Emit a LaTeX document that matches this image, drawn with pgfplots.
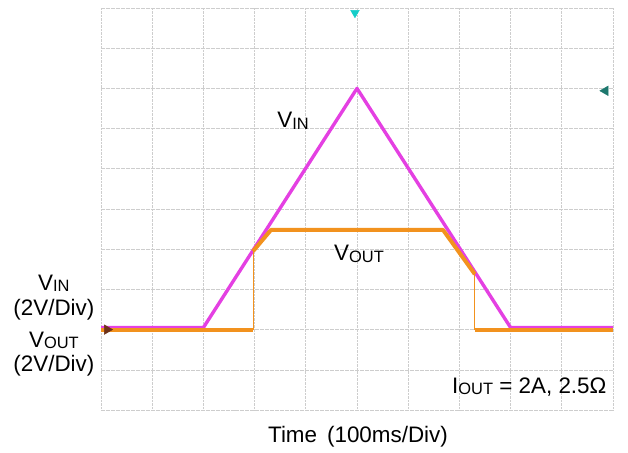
\documentclass[border=0pt]{standalone}
\usepackage{pgfplots}
\pgfplotsset{compat=1.18}
\usepackage{fontspec}
\setmainfont{Liberation Sans}
\definecolor{vin}{RGB}{228,64,226}
\definecolor{vout}{RGB}{242,146,30}
\definecolor{gridc}{RGB}{205,205,205}
\definecolor{trig}{RGB}{20,205,200}
\definecolor{lvl}{RGB}{30,120,110}
\definecolor{chmark}{RGB}{110,50,25}
\newcommand{\sbs}[1]{\raisebox{-1.2pt}{\fontsize{16.5}{18}\selectfont #1}}
\begin{document}
\begin{tikzpicture}
\path[use as bounding box] (0,0) rectangle (628bp,453bp);
\begin{axis}[
  scale only axis, width=512bp, height=402bp,
  at={(101bp,43bp)}, anchor=south west,
  xmin=0, xmax=10, ymin=0, ymax=10,
  xtick={0,...,10}, ytick={0,...,10},
  xticklabels={}, yticklabels={}, tick style={draw=none},
  grid=major,
  x grid style={gridc, densely dotted, line width=0.7pt},
  y grid style={gridc, line width=0.6pt, dash pattern=on 4pt off 1pt},
  axis line style={draw=none},
  clip=false,
  font=\fontsize{22.5}{26}\selectfont,
]
\addplot[vin, line width=3.4pt, line join=round] coordinates {(0,2.05)(2,2.05)(5,8.0)(8,2.05)(10,2.05)};
\addplot[vout, line width=4pt] coordinates {(0,1.99)(2.97,1.99)};
\addplot[vout, line width=0.8pt] coordinates {(2.97,1.99)(2.97,3.95)};
\addplot[vout, line width=4pt, line join=round] coordinates {(2.97,3.95)(3.32,4.48)(6.68,4.48)(7.30,3.38)};
\addplot[vout, line width=0.8pt] coordinates {(7.30,3.38)(7.30,1.99)};
\addplot[vout, line width=4pt] coordinates {(7.30,1.99)(10,1.99)};
\addplot[only marks, mark=triangle*, mark size=5pt, color=trig, mark options={rotate=180}] coordinates {(4.96,9.88)};
\addplot[only marks, mark=triangle*, mark size=5.5pt, color=lvl, mark options={rotate=90}] coordinates {(9.85,7.94)};
\addplot[only marks, mark=triangle*, mark size=5.5pt, color=chmark, mark options={rotate=-90}] coordinates {(0.12,2.0)};
\node[anchor=base west, inner sep=0pt] at (axis cs:3.44,7.015) {V\sbs{IN}};
\node[anchor=base west, inner sep=0pt] at (axis cs:4.55,3.71) {V\sbs{OUT}};
\node[anchor=base west, inner sep=0pt] at (axis cs:6.855,0.42) {I\sbs{OUT} = 2A, 2.5Ω};
\node[anchor=base, inner sep=0pt] at (axis cs:-0.92,2.985) {V\sbs{IN}};
\node[anchor=base, inner sep=0pt] at (axis cs:-0.92,2.363) {(2V/Div)};
\node[anchor=base, inner sep=0pt] at (axis cs:-0.92,1.567) {V\sbs{OUT}};
\node[anchor=base, inner sep=0pt] at (axis cs:-0.92,0.970) {(2V/Div)};
\node[anchor=base, inner sep=0pt] at (axis cs:5.02,-0.796) {Time\hspace{10pt}(100ms/Div)};
\end{axis}
\end{tikzpicture}
\end{document}
